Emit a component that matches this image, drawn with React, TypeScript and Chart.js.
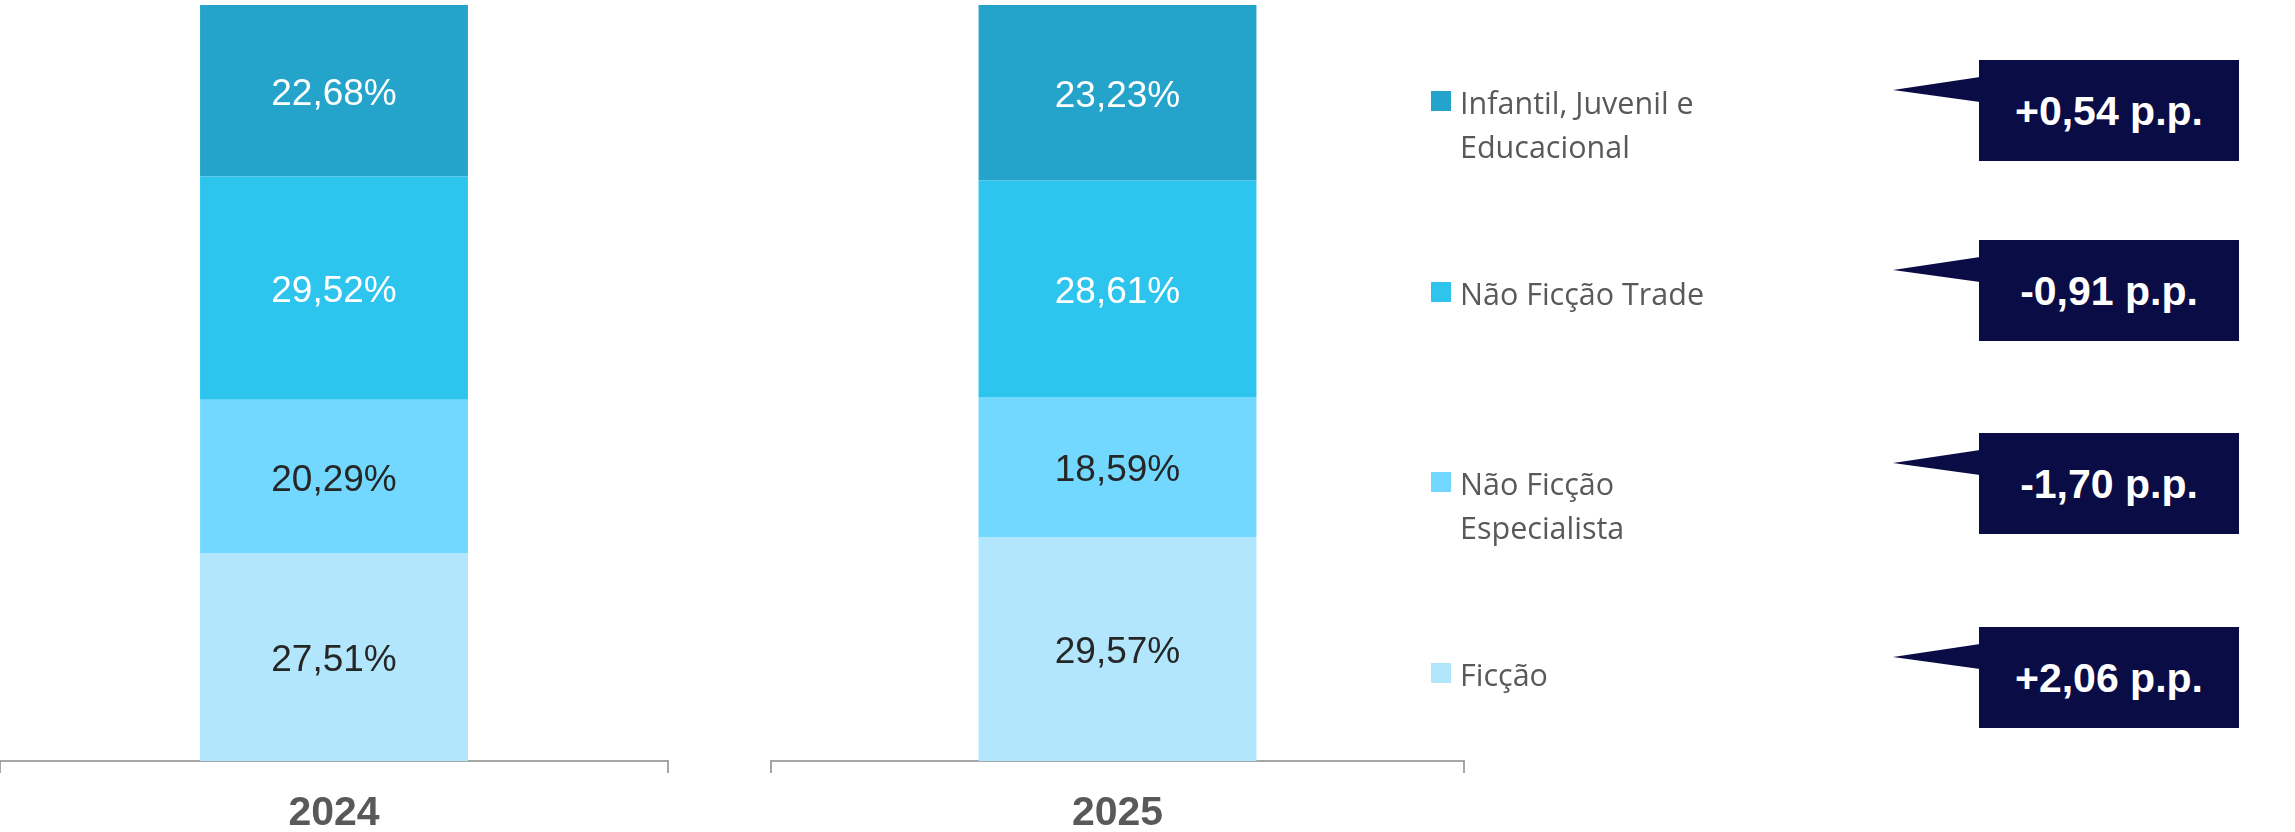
import React, { useEffect, useRef } from 'react';
import { Chart, registerables } from 'chart.js';

Chart.register(...registerables);

// ---- data ----
const categories = ['2024', '2025'];
const seriesNames = ['Ficção', 'Não Ficção Especialista', 'Não Ficção Trade', 'Infantil, Juvenil e Educacional'];
const ficcao = [27.51, 29.57];
const naoFiccaoEspecialista = [20.29, 18.59];
const naoFiccaoTrade = [29.52, 28.61];
const infantilJuvenilEducacional = [22.68, 23.23];
const variacaoPP = [2.06, -1.7, -0.91, 0.54];
const legendLines = [['Ficção'], ['Não Ficção', 'Especialista'], ['Não Ficção Trade'], ['Infantil, Juvenil e', 'Educacional']];

const seriesValues = [ficcao, naoFiccaoEspecialista, naoFiccaoTrade, infantilJuvenilEducacional];
const seriesColors = ['#B1E6FD', '#72D8FF', '#2DC4EE', '#24A4CB'];
const labelColors = ['#262626', '#262626', '#FFFFFF', '#FFFFFF'];

const fmt = (v: number) => v.toFixed(2).replace('.', ',');

// ---- layout ----
const H = 832;
const panels = [
  { left: 0, width: 670, padL: 0, padR: 2 },
  { left: 769, width: 697, padL: 2, padR: 2 },
];
// top-to-bottom rows (series index 3,2,1,0)
const rowBaselines = [111, 302, 492, 683];
const boxTops = [60, 240, 433, 627];

const valueLabels = {
  id: 'valueLabels',
  afterDatasetsDraw(chart: any) {
    const ctx = chart.ctx;
    ctx.save();
    ctx.font = '37px "Liberation Sans", Arial, sans-serif';
    ctx.textAlign = 'center';
    ctx.textBaseline = 'middle';
    chart.data.datasets.forEach((ds: any, di: number) => {
      const meta = chart.getDatasetMeta(di);
      meta.data.forEach((el: any, i: number) => {
        const v = ds.data[i];
        const cy = (el.y + el.base) / 2;
        ctx.fillStyle = labelColors[di];
        ctx.fillText(fmt(v) + '%', el.x, cy + 4);
      });
    });
    ctx.restore();
  },
};

function Panel({ idx }: { idx: number }) {
  const ref = useRef<HTMLCanvasElement>(null);
  const p = panels[idx];
  useEffect(() => {
    if (!ref.current) return;
    const chart = new Chart(ref.current, {
      type: 'bar',
      data: {
        labels: [categories[idx]],
        datasets: seriesValues.map((vals, si) => ({
          label: seriesNames[si],
          data: [vals[idx]],
          backgroundColor: seriesColors[si],
          borderWidth: 0,
          barPercentage: 1,
          categoryPercentage: 0.401,
        })),
      },
      options: {
        responsive: false,
        animation: false,
        devicePixelRatio: 1,
        layout: { padding: { top: 5, left: p.padL, right: p.padR, bottom: 0 } },
        plugins: { legend: { display: false }, tooltip: { enabled: false } },
        scales: {
          x: {
            type: 'category',
            stacked: true,
            offset: true,
            grid: {
              display: true,
              offset: true,
              drawOnChartArea: false,
              drawTicks: true,
              tickLength: 12,
              color: '#A6A6A6',
              lineWidth: 2,
            },
            border: { display: true, color: '#A6A6A6', width: 2 },
            ticks: {
              color: '#595959',
              font: { family: '"Liberation Sans", Arial, sans-serif', weight: 'bold', size: 41 },
              padding: 16,
              maxRotation: 0,
            },
            afterFit: (s: any) => {
              s.height = 71;
            },
          },
          y: { stacked: true, display: false, min: 0, max: 100 },
        },
      },
      plugins: [valueLabels],
    } as any);
    return () => chart.destroy();
  }, [idx]);
  return (
    <canvas
      ref={ref}
      width={p.width}
      height={H}
      style={{ position: 'absolute', left: p.left, top: 0, width: p.width, height: H, display: 'block' }}
    />
  );
}

export default function App() {
  const order = [3, 2, 1, 0];
  return (
    <div style={{ position: 'absolute', left: 0, top: 0, width: 2295, height: H, background: '#fff', overflow: 'hidden' }}>
      <Panel idx={0} />
      <Panel idx={1} />
      {order.map((si, r) => (
        <React.Fragment key={si}>
          <div
            style={{
              position: 'absolute',
              left: 1431,
              top: rowBaselines[r] - 20,
              width: 20,
              height: 20,
              background: seriesColors[si],
            }}
          />
          <div
            style={{
              position: 'absolute',
              left: 1460,
              top: rowBaselines[r] - 31.5,
              font: '30.5px "Open Sans", sans-serif',
              lineHeight: '44px',
              color: '#595959',
              whiteSpace: 'nowrap',
            }}
          >
            {legendLines[si].map((l, k) => (
              <div key={k}>{l}</div>
            ))}
          </div>
          <div
            style={{
              position: 'absolute',
              left: 1893,
              top: boxTops[r] + 17,
              width: 87,
              height: 25,
              background: '#0A0C45',
              clipPath: 'polygon(0 52%, 100% 0, 100% 100%)',
            }}
          />
          <div
            style={{
              position: 'absolute',
              left: 1979,
              top: boxTops[r],
              width: 260,
              height: 101,
              background: '#0A0C45',
              color: '#fff',
              display: 'flex',
              alignItems: 'center',
              justifyContent: 'center',
              paddingTop: 2,
              boxSizing: 'border-box',
              font: 'bold 41px "Liberation Sans", Arial, sans-serif',
              whiteSpace: 'nowrap',
            }}
          >
            {(variacaoPP[si] > 0 ? '+' : '') + fmt(variacaoPP[si]) + ' p.p.'}
          </div>
        </React.Fragment>
      ))}
    </div>
  );
}
